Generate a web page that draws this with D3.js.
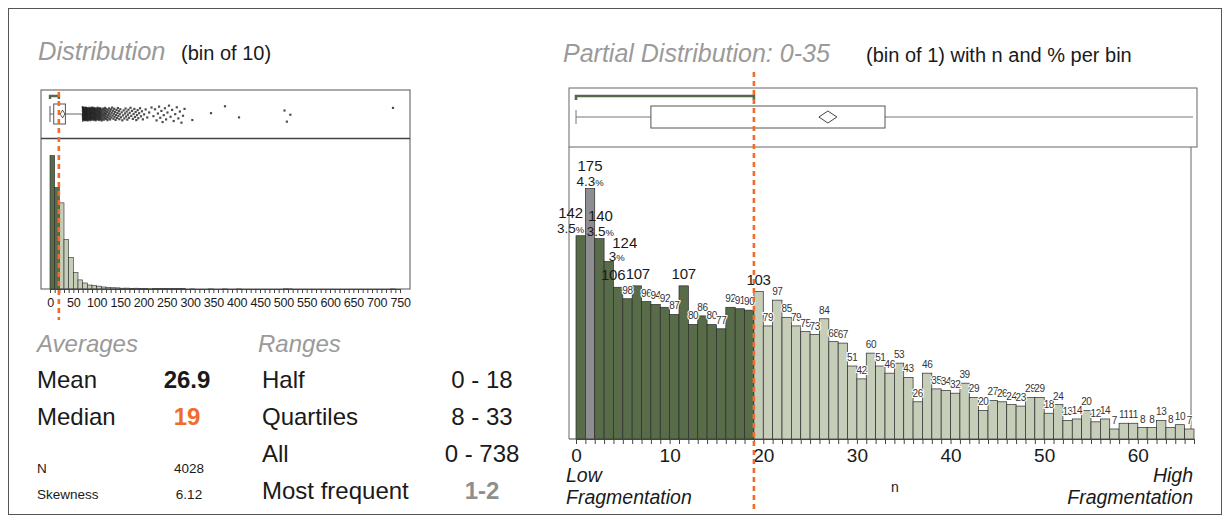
<!DOCTYPE html>
<html>
<head>
<meta charset="utf-8">
<script src="https://cdn.jsdelivr.net/npm/d3@7"></script>
<style>
  body { margin: 0; background: #fff; }
  svg { display: block; font-family: "Liberation Sans", Arial, Helvetica, sans-serif; }
</style>
</head>
<body>
<svg id="chart" width="1230" height="523"></svg>
<script>
// ---- data -------------------------------------------------------------
// counts per unit bin (n = 0 .. 65)
const partialCounts = [142,175,140,124,106,98,107,96,94,92,87,107,80,86,80,77,92,91,90,103,
  79,97,85,79,75,73,84,68,67,51,42,60,51,46,53,43,26,46,35,34,
  32,39,29,20,27,26,24,23,29,29,18,24,13,14,20,12,14,7,11,11,
  8,8,13,8,10,7];
const partialPctText = ["3.5","4.3","3.5","3"];
const partialTicks = [0,10,20,30,40,50,60];

// counts per bin of 10 (0-10, 10-20, ... 740-750)
const distCounts = [1174,893,758,436,278,144,80,53,35,30,25,18,14,11,10,7,8,6,7,5,
  3,2,3,4,4,3,3,3,3,0,1,0,0,0,1,0,0,1,0,0,
  1,0,0,0,0,0,0,0,0,0,2,1,0,0,0,0,0,0,0,0,
  0,0,0,0,0,0,0,0,0,0,0,0,0,1,0];
const distTicks = d3.range(0, 751, 50);

const quartiles = [8, 33];
const medianValue = 19;
const meanValue = 26.9;
const halfRange = [0, 18];
const modeBin = 1;
const fullRange = [0, 738];

const averageNames = ["Mean", "Median"];
const averageValues = ["26.9", "19"];
const countNames = ["N", "Skewness"];
const countValues = ["4028", "6.12"];
const rangeNames = ["Half", "Quartiles", "All", "Most frequent"];
const rangeValues = ["0 - 18", "8 - 33", "0 - 738", "1-2"];

// ---- styles -----------------------------------------------------------
const DARK = "#586c49", LIGHT = "#c6cdb8", MODE = "#8d8d92";
const BAR_STROKE = "#2b2b2b", ORANGE = "#ef6c2c", BRACKET = "#56684a";
const TITLE_GREY = "#9a9a9a", INK = "#1a1a1a";

const svg = d3.select("#chart");
const iqr = quartiles[1] - quartiles[0];
const whiskerHi = quartiles[1] + 1.5 * iqr;

// outer border
svg.append("rect").attr("x", 8.5).attr("y", 8.5).attr("width", 1213).attr("height", 506)
  .attr("fill", "none").attr("stroke", "#555").attr("stroke-width", 1);

function text(g, x, y, s, opts = {}) {
  return g.append("text").attr("x", x).attr("y", y).text(s)
    .attr("font-size", opts.size || 14)
    .attr("font-style", opts.italic ? "italic" : null)
    .attr("font-weight", opts.bold ? "bold" : null)
    .attr("fill", opts.color || INK)
    .attr("text-anchor", opts.anchor || "start");
}

// ---- left panel: full distribution --------------------------------------
const L = { x0: 41, x1: 410, top: 90, split: 138.5, base: 289, boxY: 114 };
const xD = d3.scaleLinear().domain([0, 750]).range([50, 400]);
const yD = d3.scaleLinear().domain([0, 1324]).range([L.base, L.split]);
const left = svg.append("g");

text(left, 38, 60, "Distribution", { size: 25.5, italic: true, color: TITLE_GREY });
text(left, 181, 60, "(bin of 10)", { size: 20 });

left.append("g").selectAll("rect").data(distCounts).join("rect")
  .attr("x", (d, i) => xD(i * 10))
  .attr("y", d => yD(d))
  .attr("width", (d, i) => xD(i * 10 + 10) - xD(i * 10))
  .attr("height", d => L.base - yD(d))
  .attr("fill", (d, i) => i * 10 < medianValue ? DARK : LIGHT)
  .attr("stroke", BAR_STROKE).attr("stroke-width", 0.6);

left.append("rect").attr("x", L.x0).attr("y", L.top).attr("width", L.x1 - L.x0).attr("height", L.base - L.top)
  .attr("fill", "none").attr("stroke", "#555").attr("stroke-width", 1);
left.append("line").attr("x1", L.x0).attr("x2", L.x1).attr("y1", L.split).attr("y2", L.split)
  .attr("stroke", "#444").attr("stroke-width", 1.4);

const axD = d3.axisBottom(xD).tickValues(d3.range(0, 751, 10)).tickSize(4).tickSizeOuter(0)
  .tickFormat(d => distTicks.includes(d) ? d : "");
const gAxD = left.append("g").attr("transform", `translate(0,${L.base})`).call(axD);
gAxD.select(".domain").attr("stroke", "#444");
gAxD.selectAll(".tick line").attr("stroke", "#444");
gAxD.selectAll(".tick text").attr("font-size", 12.5).attr("fill", INK).attr("dy", "0.9em")
  .attr("letter-spacing", -0.2)
  .attr("font-family", "Liberation Sans, Arial, sans-serif");

// box plot strip
const bL = left.append("g");
const lowerWhisker = fullRange[0];
const upperWhisker = Math.min(whiskerHi,
  d3.max(distCounts.flatMap((c, i) => c > 0 ? [i * 10 + 10] : []).filter(v => v <= whiskerHi)));
bL.append("line").attr("x1", xD(lowerWhisker)).attr("x2", xD(quartiles[0])).attr("y1", L.boxY).attr("y2", L.boxY).attr("stroke", "#666");
bL.append("line").attr("x1", xD(quartiles[1])).attr("x2", xD(upperWhisker)).attr("y1", L.boxY).attr("y2", L.boxY).attr("stroke", "#666");
[lowerWhisker, upperWhisker].forEach(v =>
  bL.append("line").attr("x1", xD(v)).attr("x2", xD(v)).attr("y1", L.boxY - 8).attr("y2", L.boxY + 8).attr("stroke", "#555"));

// individual values beyond the upper whisker, spread inside their bins
const outliers = [];
distCounts.forEach((c, i) => {
  const start = i * 10;
  if (start + 10 <= whiskerHi) return;
  for (let j = 0; j < c; j++) outliers.push({ v: start + (j + 0.5) / c * 10, k: outliers.length });
});
bL.append("g").selectAll("rect").data(outliers).join("rect")
  .attr("x", d => xD(d.v) - 1.1)
  .attr("y", d => L.boxY - 1.1 + ((d.k * 0.618034) % 1 - 0.5) * (d.v < 220 ? 13 : 18))
  .attr("width", 2.2).attr("height", 2.2)
  .attr("fill", "#222").attr("fill-opacity", 0.8);

bL.append("rect").attr("x", xD(quartiles[0])).attr("y", L.boxY - 10)
  .attr("width", xD(quartiles[1]) - xD(quartiles[0])).attr("height", 20)
  .attr("fill", "#fff").attr("stroke", "#555").attr("stroke-width", 1);
bL.append("path").attr("d", d3.symbol(d3.symbolDiamond, 18)())
  .attr("transform", `translate(${xD(meanValue)},${L.boxY})`)
  .attr("fill", "#fff").attr("stroke", "#333").attr("stroke-width", 0.8);
bL.append("path")
  .attr("d", `M${xD(halfRange[0])},99V96H${xD(halfRange[1] + 1)}V99`)
  .attr("fill", "none").attr("stroke", BRACKET).attr("stroke-width", 2.4);

left.append("line").attr("x1", xD(medianValue)).attr("x2", xD(medianValue)).attr("y1", 92).attr("y2", 320)
  .attr("stroke", ORANGE).attr("stroke-width", 2.6).attr("stroke-dasharray", "5,4");

// ---- summary tables ---------------------------------------------------------
const st = svg.append("g");
text(st, 37, 352, "Averages", { size: 24, italic: true, color: TITLE_GREY });
averageNames.forEach((s, i) => {
  text(st, 37, 388 + i * 37, s, { size: 24 });
  text(st, 187, 388 + i * 37, averageValues[i], { size: 24, bold: true, anchor: "middle", color: i === 1 ? ORANGE : INK });
});
countNames.forEach((s, i) => {
  text(st, 37, 473 + i * 26, s, { size: 13.5 });
  text(st, 189, 473 + i * 26, countValues[i], { size: 13.5, anchor: "middle" });
});
text(st, 258, 352, "Ranges", { size: 24, italic: true, color: TITLE_GREY });
rangeNames.forEach((s, i) => {
  text(st, 262, 388 + i * 37, s, { size: 24 });
  const last = i === rangeNames.length - 1;
  text(st, 482, 388 + i * 37, rangeValues[i], { size: 24, anchor: "middle", bold: last, color: last ? "#8f8f8f" : INK });
});

// ---- right panel: partial distribution, bin of 1 --------------------------
const R = { x0: 569, x1: 1191, boxRight: 1197, top: 88, split: 147, base: 439, boxY: 117 };
const nBins = partialCounts.length;
const xP = d3.scaleLinear().domain([0, nBins]).range([576, 1194]);
const yP = d3.scaleLinear().domain([0, 204]).range([R.base, R.split]);
const right = svg.append("g");

text(right, 563, 62, "Partial Distribution: 0-35", { size: 25, italic: true, color: TITLE_GREY });
text(right, 866, 62, "(bin of 1) with n and % per bin", { size: 20 });

right.append("rect").attr("x", R.x0).attr("y", R.top).attr("width", R.boxRight - R.x0).attr("height", R.split - R.top)
  .attr("fill", "none").attr("stroke", "#666").attr("stroke-width", 1);
right.append("line").attr("x1", R.x0).attr("x2", R.x0).attr("y1", R.split).attr("y2", R.base).attr("stroke", "#666");
right.append("line").attr("x1", R.x1).attr("x2", R.x1).attr("y1", R.split).attr("y2", R.base).attr("stroke", "#666");

right.append("g").selectAll("rect").data(partialCounts).join("rect")
  .attr("x", (d, i) => xP(i))
  .attr("y", d => yP(d))
  .attr("width", (d, i) => xP(i + 1) - xP(i))
  .attr("height", d => R.base - yP(d))
  .attr("fill", (d, i) => i === modeBin ? MODE : (i < medianValue ? DARK : LIGHT))
  .attr("stroke", BAR_STROKE).attr("stroke-width", 0.7);

const axP = d3.axisBottom(xP).tickValues(d3.range(0, nBins + 1)).tickSize(5).tickSizeOuter(0)
  .tickFormat(d => partialTicks.includes(d) ? d : "");
const gAxP = right.append("g").attr("transform", `translate(0,${R.base})`).call(axP);
gAxP.select(".domain").attr("stroke", "#444");
gAxP.selectAll(".tick line").attr("stroke", "#444");
gAxP.selectAll(".tick text").attr("font-size", 19).attr("fill", INK).attr("dy", "0.8em")
  .attr("font-family", "Liberation Sans, Arial, sans-serif");
right.append("line").attr("x1", R.x0).attr("x2", xP(0)).attr("y1", R.base).attr("y2", R.base).attr("stroke", "#444");

// value labels; a few are shifted sideways so that neighbours stay readable
const labelNudge = { 0: -10, 2: 1, 3: 16, 4: -5, 6: 1 };
const pctNudge = { 3: -8 };
const labelGap = { 3: 13 };
const labels = right.append("g");
partialCounts.forEach((c, i) => {
  const cx = (xP(i) + xP(i + 1)) / 2 + (labelNudge[i] || 0);
  const top = yP(c);
  const big = c >= 100;
  if (i < partialPctText.length) {
    const pctBase = top - (i === 3 ? 1 : 3);
    const t = labels.append("text").attr("x", cx + (pctNudge[i] || 0)).attr("y", pctBase).attr("text-anchor", "middle")
      .attr("font-size", 13.5).attr("fill", INK);
    t.append("tspan").text(partialPctText[i]);
    t.append("tspan").text("%").attr("font-size", 9.5);
    text(labels, cx, pctBase - (labelGap[i] || 14.5), c, { size: 15, anchor: "middle" });
  } else {
    labels.append("text").attr("x", cx).attr("y", top - (big ? 7 : 5)).text(c)
      .attr("text-anchor", "middle").attr("font-size", big ? 15 : 10)
      .attr("letter-spacing", big ? -0.3 : -0.4)
      .attr("fill", big ? INK : "#333")
      .attr("stroke", "#fff").attr("stroke-width", big ? 0 : 2.2).attr("paint-order", "stroke");
  }
});

// box plot strip
const bR = right.append("g");
bR.append("line").attr("x1", xP(0)).attr("x2", Math.min(xP(whiskerHi), R.boxRight - 4))
  .attr("y1", R.boxY).attr("y2", R.boxY).attr("stroke", "#777");
bR.append("line").attr("x1", xP(0)).attr("x2", xP(0)).attr("y1", R.boxY - 7).attr("y2", R.boxY + 7).attr("stroke", "#777");
bR.append("rect").attr("x", xP(quartiles[0])).attr("y", R.boxY - 11)
  .attr("width", xP(quartiles[1]) - xP(quartiles[0])).attr("height", 22)
  .attr("fill", "#fff").attr("stroke", "#555").attr("stroke-width", 1);
bR.append("path").attr("d", `M${xP(meanValue) - 9},${R.boxY}l9,-6l9,6l-9,6z`)
  .attr("fill", "#fff").attr("stroke", "#444").attr("stroke-width", 1);
bR.append("path")
  .attr("d", `M${xP(halfRange[0])},100V96H${xP(halfRange[1] + 1)}V100`)
  .attr("fill", "none").attr("stroke", BRACKET).attr("stroke-width", 2.6);

right.append("line").attr("x1", xP(medianValue)).attr("x2", xP(medianValue)).attr("y1", 72).attr("y2", 512)
  .attr("stroke", ORANGE).attr("stroke-width", 2.6).attr("stroke-dasharray", "5,4");

text(right, 566, 482, "Low", { size: 19.5, italic: true });
text(right, 566, 504, "Fragmentation", { size: 19.5, italic: true });
text(right, 1193, 482, "High", { size: 19.5, italic: true, anchor: "end" });
text(right, 1193, 504, "Fragmentation", { size: 19.5, italic: true, anchor: "end" });
text(right, 895, 492, "n", { size: 14, anchor: "middle" });
</script>
</body>
</html>
